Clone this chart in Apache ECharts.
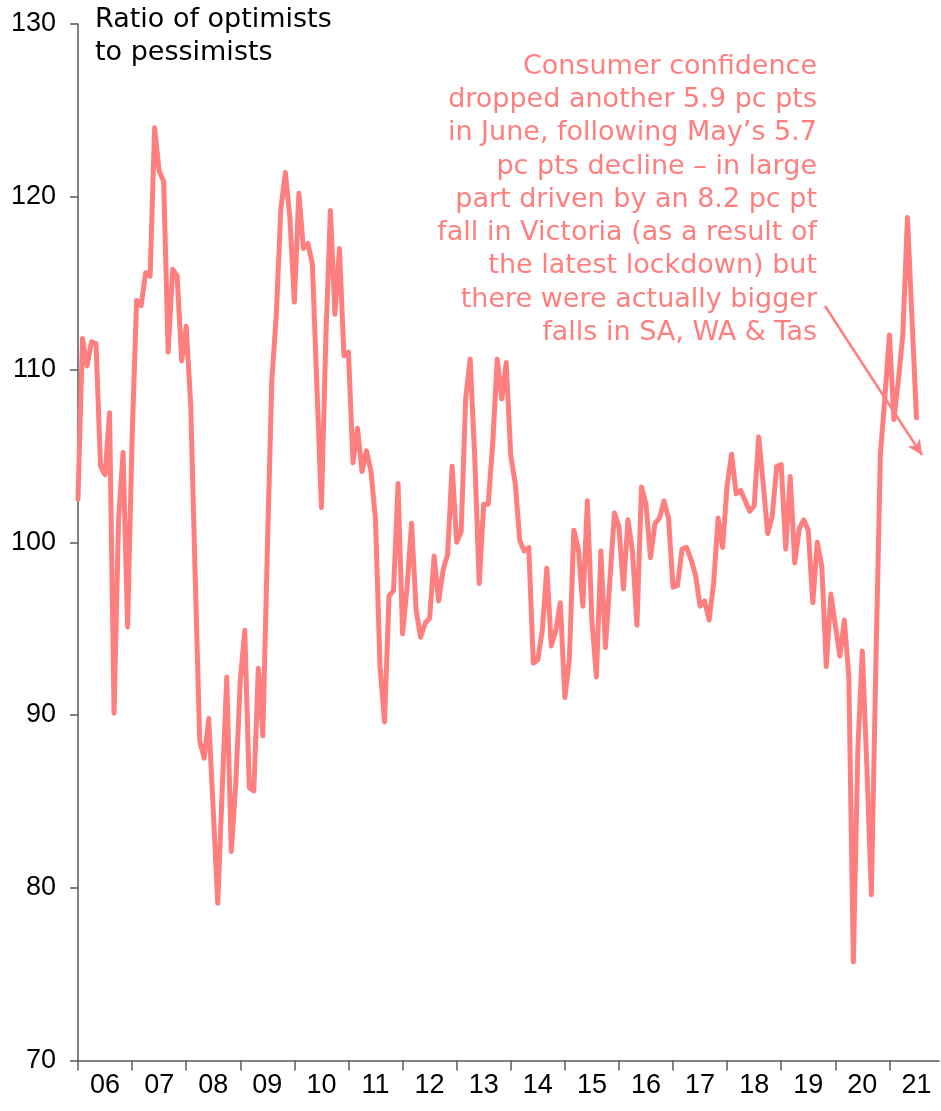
<!DOCTYPE html>
<html>
<head>
<meta charset="utf-8">
<script src="https://cdn.jsdelivr.net/npm/echarts@6/dist/echarts.min.js"></script>
<style>
html,body{margin:0;padding:0;background:#fff;}
#chart{width:941px;height:1111px;}
</style>
</head>
<body>
<div id="chart"></div>
<script>
// Year tick labels
const yearLabels = ['06','07','08','09','10','11','12','13','14','15','16','17','18','19','20','21'];
const monthNames = ['Jan','Feb','Mar','Apr','May','Jun','Jul','Aug','Sep','Oct','Nov','Dec'];

// Ratio of optimists to pessimists, monthly values
const v2006 = [102.5, 111.8, 110.2, 111.6, 111.5, 104.4, 103.9, 107.5, 90.1, 101.3, 105.2, 95.1];
const v2007 = [106.0, 114.0, 113.7, 115.6, 115.4, 124.0, 121.5, 120.9, 111.0, 115.8, 115.4, 110.5];
const v2008 = [112.5, 108.0, 98.0, 88.5, 87.5, 89.8, 84.5, 79.1, 85.7, 92.2, 82.1, 86.0];
const v2009 = [92.0, 94.9, 85.8, 85.6, 92.7, 88.8, 99.5, 109.4, 113.2, 119.3, 121.4, 118.8];
const v2010 = [113.9, 120.2, 117.0, 117.3, 116.1, 109.0, 102.0, 112.0, 119.2, 113.2, 117.0, 110.8];
const v2011 = [111.0, 104.6, 106.6, 104.1, 105.3, 104.1, 101.3, 92.8, 89.6, 96.9, 97.2, 103.4];
const v2012 = [94.7, 97.4, 101.1, 96.1, 94.5, 95.3, 95.6, 99.2, 96.6, 98.4, 99.3, 104.4];
const v2013 = [100.0, 100.6, 108.3, 110.6, 105.0, 97.6, 102.2, 102.2, 105.7, 110.6, 108.3, 110.4];
const v2014 = [105.0, 103.4, 100.1, 99.5, 99.7, 93.0, 93.2, 94.9, 98.5, 94.0, 94.9, 96.5];
const v2015 = [91.0, 93.2, 100.7, 99.6, 96.3, 102.4, 95.5, 92.2, 99.5, 93.9, 97.8, 101.7];
const v2016 = [100.9, 97.3, 101.3, 99.5, 95.2, 103.2, 102.2, 99.1, 101.1, 101.4, 102.4, 101.4];
const v2017 = [97.4, 97.5, 99.6, 99.7, 99.0, 98.1, 96.3, 96.6, 95.5, 97.6, 101.4, 99.7];
const v2018 = [103.3, 105.1, 102.8, 103.0, 102.4, 101.8, 102.1, 106.1, 103.4, 100.5, 101.5, 104.4];
const v2019 = [104.5, 99.6, 103.8, 98.8, 100.8, 101.3, 100.7, 96.5, 100.0, 98.6, 92.8, 97.0];
const v2020 = [95.2, 93.4, 95.5, 92.2, 75.7, 88.0, 93.7, 87.0, 79.6, 93.0, 105.1, 108.4];
const v2021 = [112.0, 107.1, 109.4, 112.1, 118.8, 113.0, 107.2];

const values = [].concat(v2006, v2007, v2008, v2009, v2010, v2011, v2012, v2013,
  v2014, v2015, v2016, v2017, v2018, v2019, v2020, v2021);

// Monthly categories Jan 2006 .. Dec 2021
const categories = [];
yearLabels.forEach(function (y) {
  monthNames.forEach(function (m) { categories.push(m + '-' + y); });
});

const annotationLines = [
  'Consumer confidence',
  'dropped another 5.9 pc pts',
  'in June, following May\u2019s 5.7',
  'pc pts decline \u2013 in large',
  'part driven by an 8.2 pc pt',
  'fall in Victoria (as a result of',
  'the latest lockdown) but',
  'there were actually bigger',
  'falls in SA, WA & Tas'
];
const titleLines = ['Ratio of optimists', 'to pessimists'];

const RED = '#FF7F7F';
const AXIS = '#595959';
const TEXT_FONT = '"DejaVu Sans", sans-serif';
const NUM_FONT = '"Liberation Sans", Arial, sans-serif';

const chart = echarts.init(document.getElementById('chart'), null, {renderer: 'canvas'});
chart.setOption({
  animation: false,
  backgroundColor: '#fff',
  grid: {left: 78, right: 2, top: 24, bottom: 50.5, containLabel: false},
  xAxis: {
    type: 'category',
    data: categories,
    boundaryGap: false,
    axisLine: {show: true, lineStyle: {color: AXIS, width: 1.5}},
    axisTick: {show: true, length: 10, interval: function (i) { return i % 12 === 0; },
      lineStyle: {color: AXIS, width: 1.5}},
    axisLabel: {
      interval: function (i) { return i % 12 === 6; },
      formatter: function (v, i) { return yearLabels[Math.floor(i / 12)]; },
      color: '#000', fontSize: 27, fontFamily: NUM_FONT, margin: 12
    },
    splitLine: {show: false}
  },
  yAxis: {
    type: 'value', min: 70, max: 130, interval: 10,
    axisLine: {show: true, lineStyle: {color: AXIS, width: 1.5}},
    axisTick: {show: true, length: 8, lineStyle: {color: AXIS, width: 1.5}},
    axisLabel: {color: '#000', fontSize: 27, fontFamily: NUM_FONT, margin: 22},
    splitLine: {show: false}
  },
  series: [{
    type: 'line',
    data: values,
    symbol: 'none',
    lineStyle: {color: RED, width: 5, join: 'round', cap: 'round'},
    markLine: {
      silent: true,
      symbol: ['none', 'arrow'],
      symbolSize: [11, 15],
      label: {show: false},
      lineStyle: {color: RED, width: 2.5, type: 'solid'},
      data: [[{x: 825, y: 306}, {x: 922, y: 455}]]
    }
  }],
  graphic: [
    {
      type: 'text', x: 95, y: 3,
      style: {text: titleLines.join('\n'), font: '27px ' + TEXT_FONT, fill: '#000',
        align: 'left', verticalAlign: 'top', lineHeight: 33}
    },
    {
      type: 'text', x: 817, y: 50,
      style: {text: annotationLines.join('\n'), font: '27px ' + TEXT_FONT, fill: RED,
        align: 'right', verticalAlign: 'top', lineHeight: 33.3}
    }
  ]
});
</script>
</body>
</html>
